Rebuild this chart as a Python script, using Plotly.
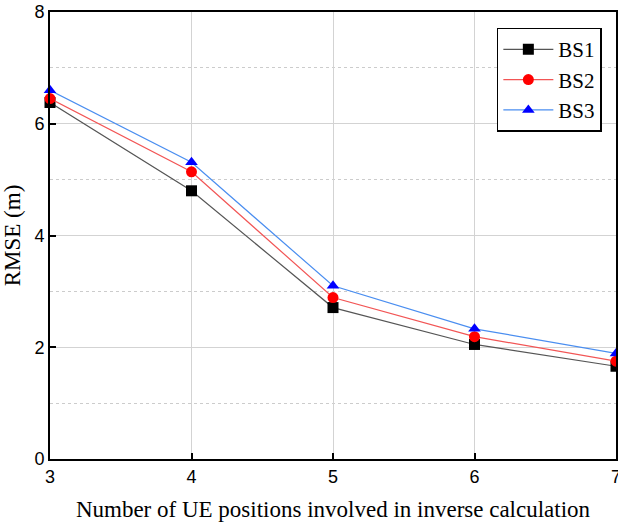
import plotly.graph_objects as go

x_vals = [3, 4, 5, 6, 7]
bs1 = [6.38, 4.80, 2.71, 2.05, 1.66]
bs2 = [6.45, 5.14, 2.89, 2.19, 1.75]
bs3 = [6.60, 5.31, 3.10, 2.33, 1.89]
series_names = ["BS1", "BS2", "BS3"]

fig = go.Figure()
styles = [
    (bs1, "#555555", "#000000", "square"),
    (bs2, "#f25555", "#ff0000", "circle"),
    (bs3, "#4a8ef0", "#0000ff", "triangle-up"),
]
for name, (vals, lc, mc, sym) in zip(series_names, styles):
    fig.add_trace(go.Scatter(
        x=x_vals, y=vals, name=name, mode="lines+markers",
        line=dict(color=lc, width=1.2),
        marker=dict(color=mc, symbol=sym, size=11),
        cliponaxis=False,
    ))

axis_common = dict(
    showline=True, linecolor="black", linewidth=2, mirror=True,
    ticks="inside", ticklen=6, tickwidth=1.5, tickcolor="black",
    tickfont=dict(family="Liberation Sans, Arial", size=18, color="black"),
    showgrid=True, gridcolor="#d3d3d3", gridwidth=1.2,
    zeroline=False, automargin=False,
)
fig.update_xaxes(
    range=[3, 7], dtick=1, ticklabeloverflow="allow", **axis_common,
    title=dict(text="Number of UE positions involved in inverse calculation",
               font=dict(family="Liberation Serif, Times New Roman", size=23, color="black")),
)
fig.update_yaxes(
    range=[0, 8], dtick=2, **axis_common,
    title=dict(text="RMSE (m)",
               font=dict(family="Liberation Serif, Times New Roman", size=23, color="black")),
    minor=dict(dtick=1, showgrid=True, gridcolor="#cccccc", griddash="dot", gridwidth=1.2),
)
fig.update_layout(
    width=618, height=524,
    margin=dict(l=50, r=2, t=12, b=65),
    plot_bgcolor="white", paper_bgcolor="white",
    legend=dict(
        x=0.975, y=0.965, xanchor="right", yanchor="top",
        bordercolor="black", borderwidth=1.5, bgcolor="white",
        font=dict(family="Liberation Serif, Times New Roman", size=21, color="black"),
        itemwidth=50, tracegroupgap=0,
    ),
)
fig.write_html(
    "out.html",
    config={"displayModeBar": False},
    post_script="document.body.style.margin='0';document.body.style.overflow='hidden';",
)
